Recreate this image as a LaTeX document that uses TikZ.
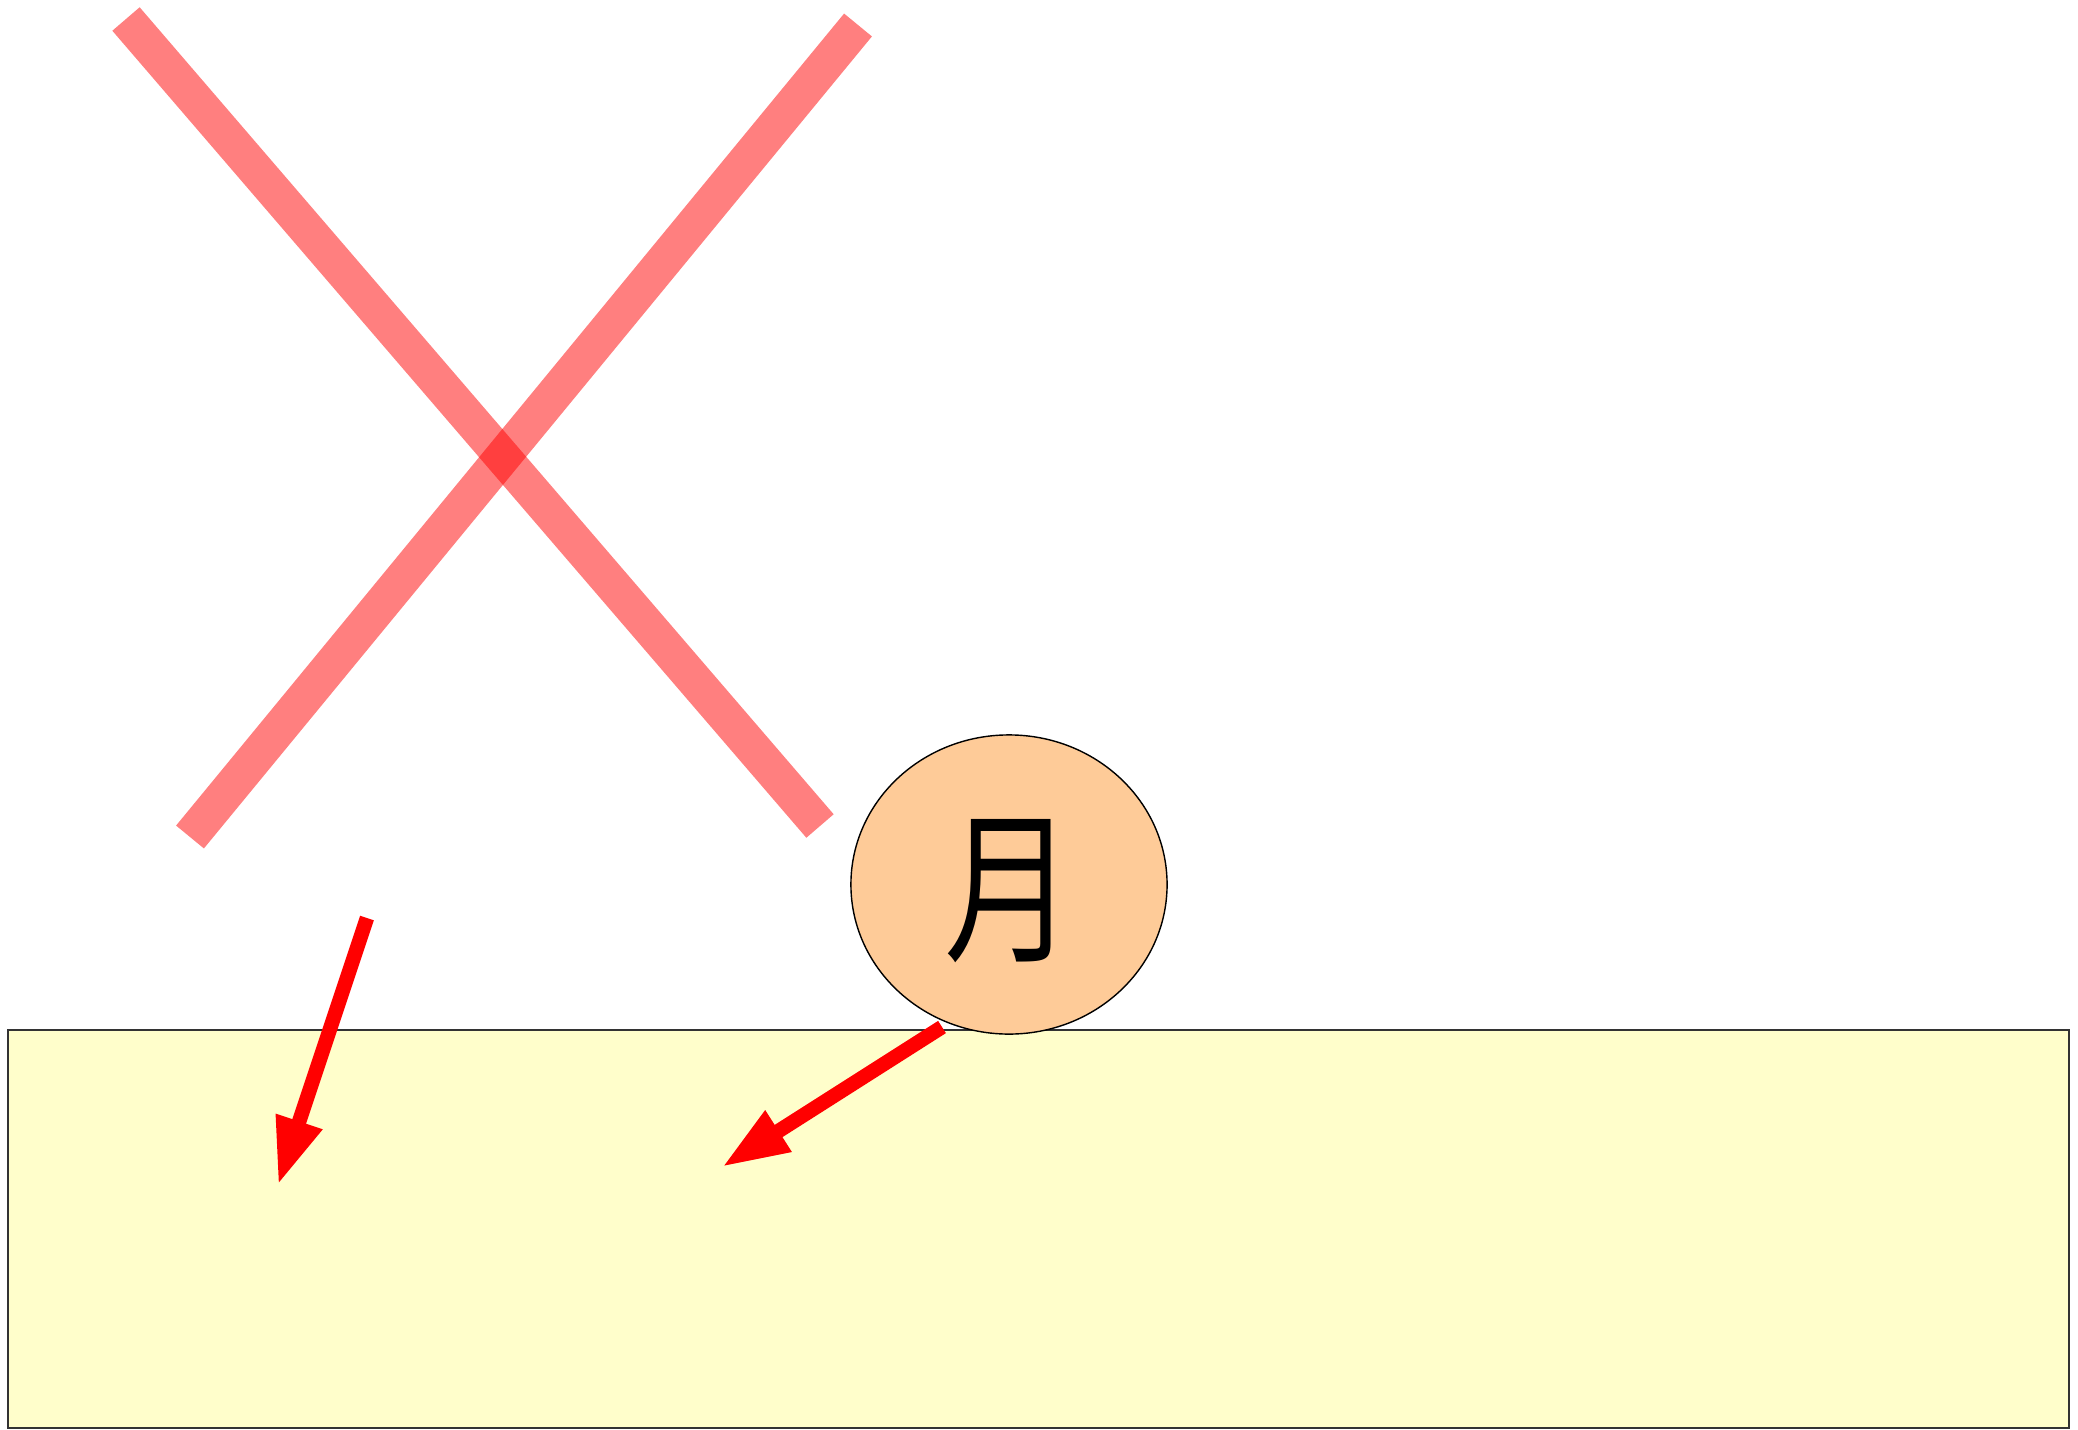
\documentclass[tikz,border=0pt]{standalone}
\usepackage{fontspec}
\newfontfamily\cjk{Noto Sans CJK SC}
\usetikzlibrary{arrows.meta,shapes.geometric}
\definecolor{boxyellow}{HTML}{FFFECB}
\definecolor{discorange}{HTML}{FECB98}
\begin{document}
\begin{tikzpicture}[x=0.01cm,y=-0.01cm,
  crossbar/.style={draw=red, draw opacity=0.5, line width=0.36cm},
  redarrow/.style={draw=red, line width=0.145cm, -{Triangle[length=0.67cm,width=0.45cm]}},
  groundbox/.style={draw=black!80, line width=0.5pt, fill=boxyellow, inner sep=0pt,
    minimum width=20.6cm, minimum height=3.98cm, anchor=north west},
  disc/.style={ellipse, draw=black, line width=0.4pt, fill=discorange, inner sep=0pt,
    minimum width=3.16cm, minimum height=2.99cm},
  glyph/.style={inner sep=0pt, xscale=0.785, font=\cjk\fontsize{47}{47}\selectfont}
]
\useasboundingbox (0,0) rectangle (2078,1430);
% crossed bars
\coordinate (a1) at (126,19);
\coordinate (a2) at (820,826);
\coordinate (b1) at (858,25);
\coordinate (b2) at (190,837);
\draw[crossbar] (a1) -- (a2);
\draw[crossbar] (b1) -- (b2);
% ground box
\node[groundbox] (box) at (7,1029) {};
% disc with character
\node[disc] (moon) at (1009,884.5) {};
\node[glyph] (moonchar) at (1009,891) {月};
% arrows
\coordinate (p1) at (367,918);
\coordinate (q1) at (278,1185);
\coordinate (p2) at (942,1027);
\coordinate (q2) at (722,1167);
\draw[redarrow] (p1) -- (q1);
\draw[redarrow] (p2) -- (q2);
\end{tikzpicture}
\end{document}
